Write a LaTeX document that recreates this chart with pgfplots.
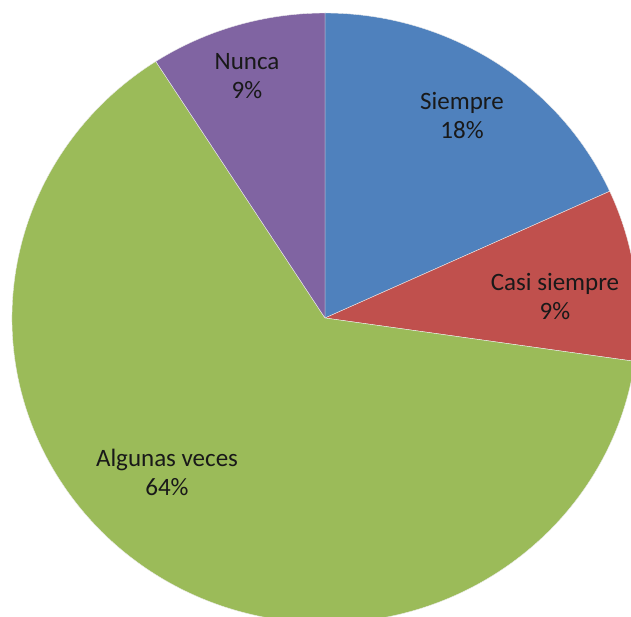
\documentclass[border=0pt]{standalone}
\usepackage{fontspec}
\setmainfont{Carlito}
\usepackage{pgfplots}
\usepackage{pgfplotstable}
\pgfplotsset{compat=1.18}
\definecolor{cA}{HTML}{4F81BD}
\definecolor{cB}{HTML}{C0504D}
\definecolor{cC}{HTML}{9BBB59}
\definecolor{cD}{HTML}{8064A2}
\pgfplotstableread[col sep=comma]{
label,value,lx,ly,col
Siempre,18.18,462,500,cA
Casi siempre,9.09,555,319,cB
Algunas veces,63.64,167,144,cC
Nunca,9.09,247,540,cD
}\piedata
\begin{document}
\begin{tikzpicture}
\begin{axis}[
  width=631pt, height=616pt, scale only axis,
  xmin=0, xmax=631, ymin=0, ymax=616,
  hide axis, clip=true,
]
\addplot[draw=none] coordinates {(0,0) (631,616)};
\pgfplotsextra{
  \gdef\curang{90}
  \foreach \i in {0,...,3}{
    \pgfplotstablegetelem{\i}{value}\of\piedata \let\val\pgfplotsretval
    \pgfplotstablegetelem{\i}{col}\of\piedata \let\col\pgfplotsretval
    \pgfmathsetmacro\endang{\curang-\val*3.6}
    \fill[\col, draw=white!85!gray, line width=0.4pt, line join=round]
      (axis cs:325,298) -- (axis cs:{325+313*cos(\curang)},{298+305*sin(\curang)})
      arc[start angle=\curang, end angle=\endang, x radius=313pt, y radius=305pt] -- cycle;
    \xdef\curang{\endang}
  }
  \foreach \i in {0,...,3}{
    \pgfplotstablegetelem{\i}{value}\of\piedata \let\val\pgfplotsretval
    \pgfplotstablegetelem{\i}{label}\of\piedata \let\lab\pgfplotsretval
    \pgfplotstablegetelem{\i}{lx}\of\piedata \let\lx\pgfplotsretval
    \pgfplotstablegetelem{\i}{ly}\of\piedata \let\ly\pgfplotsretval
    \node[align=center, text=black!90, font=\fontsize{25}{29}\selectfont]
      at (axis cs:\lx,\ly) {\lab\\\pgfmathprintnumber[fixed,precision=0,assume math mode=true]{\val}\%};
  }
}
\end{axis}
\end{tikzpicture}
\end{document}
